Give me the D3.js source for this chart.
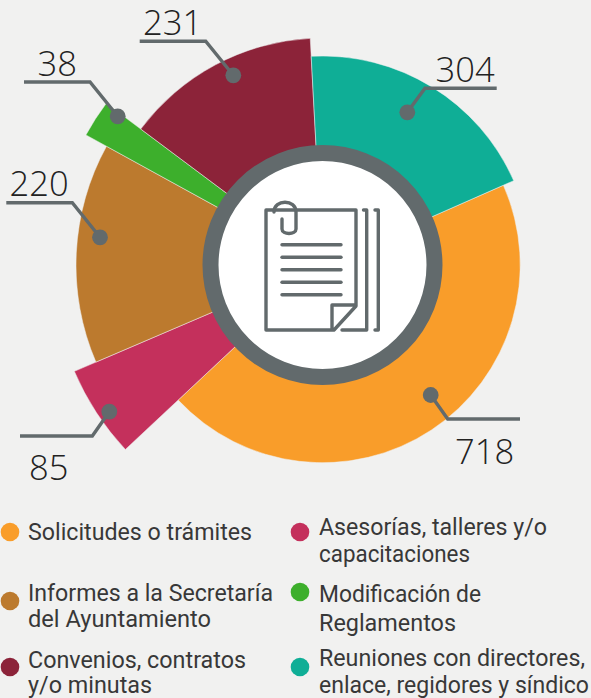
<!DOCTYPE html>
<html><head><meta charset="utf-8">
<script src="https://cdn.jsdelivr.net/npm/d3@7"></script>
<style>
html,body{margin:0;padding:0;background:#f1f1f0;overflow:hidden}
svg{display:block}
</style></head><body>
<svg id="c" width="591" height="698"></svg>
<script>
// Data
const categories = ["Solicitudes o trámites","Asesorías, talleres y/o capacitaciones","Informes a la Secretaría del Ayuntamiento","Modificación de Reglamentos","Convenios, contratos y/o minutas","Reuniones con directores, enlace, regidores y síndico"];
const counts = [718,85,220,38,231,304];
// Drawn angular sweep and drawn reach of each wedge
const sweepDegrees = [160.7,19.9,52,8,50.1,69.3];
const reach = [197.7,270,246.5,270,227,209];
const colors = ["#f99d2a","#c4305c","#bc7a2e","#3daf2c","#8c2339","#0fae96"];

// Layout
const cx=322.5,cy=265,start=66.2*Math.PI/180;
const ink="#626a6c";
const svg=d3.select("#c");
const g=svg.append("g").attr("transform",`translate(${cx},${cy})`);
const rScale=d3.scaleLinear().domain([0,300]).range([0,300]);
const pie=d3.pie().sort(null).value((d,i)=>sweepDegrees[i]).startAngle(start).endAngle(start+2*Math.PI);
const arcs=pie(counts);
const arc=d3.arc().innerRadius(100);
g.selectAll("path.s").data(arcs).join("path").attr("class","s")
 .attr("d",(d,i)=>arc.outerRadius(rScale(reach[i]))(d))
 .attr("fill",(d,i)=>colors[i]).attr("stroke","#f1f1f0").attr("stroke-width",0.5);
g.append("circle").attr("r",112).attr("fill","#fff").attr("stroke",ink).attr("stroke-width",16);

// Leaders
const leaders=[
 {p:[[430.7,395],[447.7,419],[520,419]],t:[455,464]},
 {p:[[109.3,411.7],[92.3,436],[20,436]],t:[29,480]},
 {p:[[100,237.3],[72.3,202.7],[6.3,202.7]],t:[9.5,196]},
 {p:[[117.7,116.3],[90,82],[24,82]],t:[37.5,76]},
 {p:[[233.3,75.3],[205.7,41.3],[139.7,41.3]],t:[143,35]},
 {p:[[407.3,112.3],[425,88.3],[496.7,88.3]],t:[435.5,82]}
];
const line=d3.line();
const lg=svg.append("g");
leaders.forEach((l,i)=>{
 lg.append("path").attr("d",line(l.p)).attr("fill","none").attr("stroke",ink).attr("stroke-width",3.4).attr("stroke-linejoin","miter");
 lg.append("circle").attr("cx",l.p[0][0]).attr("cy",l.p[0][1]).attr("r",7.9).attr("fill",ink);
 lg.append("text").attr("x",l.t[0]).attr("y",l.t[1]).text(counts[i])
  .attr("font-family","'Open Sans'").attr("font-weight",300).attr("font-size",34.5).attr("fill","#222");
});

// Icon
const ic=svg.append("g").attr("fill","none").attr("stroke",ink).attr("stroke-width",3.4).attr("stroke-linecap","round").attr("stroke-linejoin","round");
ic.append("path").attr("d","M334 330H266V210H356V306L334 330L332 328V305H356");
ic.append("path").attr("d","M282 219V229C282 235 296 235 296 229V212C296 199 274 199 274 212");
d3.range(5).forEach(i=>{const y=244.7+i*12.5;ic.append("path").attr("d",`M282 ${y}H341`);});
ic.append("path").attr("d","M363.5 210H366.7V330H342");
ic.append("path").attr("d","M375 210H378.3V330H375");

// Legend: dot position, then each line with x, baseline and drawn width
const legend=[
 {d:[10,532],l:[["Solicitudes o trámites",28,540,224]]},
 {d:[300,532],l:[["Asesorías, talleres y/o",319,535,228],["capacitaciones",319,562,151]]},
 {d:[10,601],l:[["Informes a la Secretaría",28,601,245],["del Ayuntamiento",28,627,183]]},
 {d:[300,592],l:[["Modificación de",319,602,162],["Reglamentos",319,631,137]]},
 {d:[10,667],l:[["Convenios, contratos",28,668,218],["y/o minutas",28,693,124]]},
 {d:[300,667],l:[["Reuniones con directores,",319,666,266],["enlace, regidores y síndico",319,693,270]]}
];
const lgd=svg.append("g");
legend.forEach((e,i)=>{
 lgd.append("circle").attr("cx",e.d[0]).attr("cy",e.d[1]).attr("r",9.3).attr("fill",colors[i]);
 e.l.forEach(t=>lgd.append("text").attr("x",t[1]).attr("y",t[2]).text(t[0])
  .attr("textLength",t[3]).attr("lengthAdjust","spacingAndGlyphs")
  .attr("font-family","Roboto").attr("font-weight",400).attr("font-size",23.5).attr("fill","#383838"));
});
</script></body></html>
